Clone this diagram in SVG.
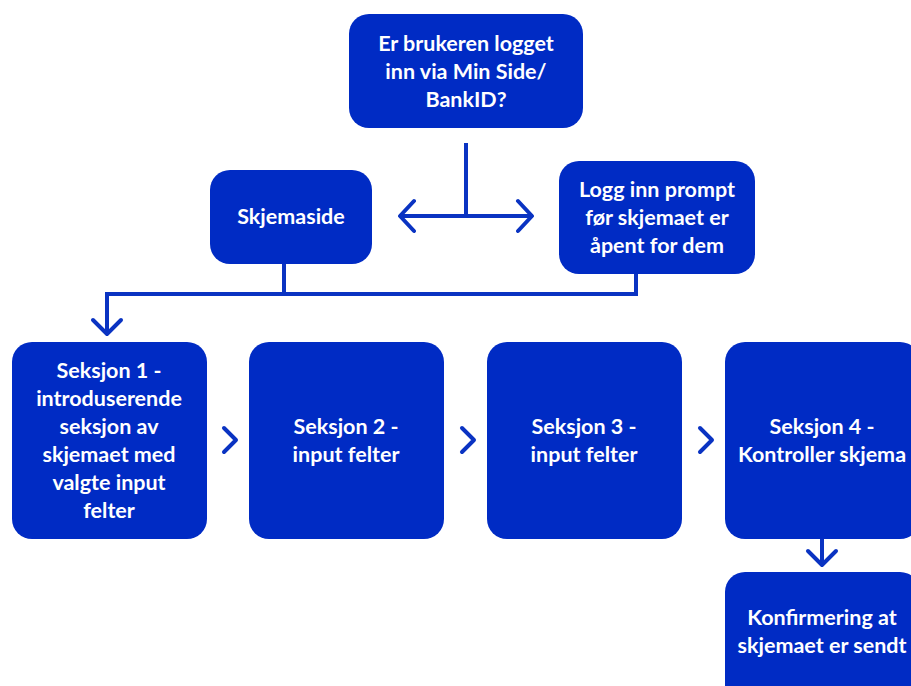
<svg xmlns="http://www.w3.org/2000/svg" width="911" height="686" viewBox="0 0 911 686">
<style>
.box{fill:#002BC4}
.t{font-family:Lato,"Liberation Sans",sans-serif;font-weight:bold;font-size:21.5px;fill:#fff;text-anchor:middle}
.ln{fill:none;stroke:#0A33C2;stroke-width:4}
.ar{fill:none;stroke:#0A33C2;stroke-width:4;stroke-linecap:round;stroke-linejoin:round}
</style>
<rect width="911" height="686" fill="#fff"/>
<g id="connectors">
<path class="ln" d="M466 143V216M400 216H532"/>
<path class="ar" d="M414 201L400 216L414 231M518 201L532 216L518 231"/>
<path class="ln" d="M284 264V294M636 274V294M107 294H638M107 292V333"/>
<path class="ar" d="M93 320L107 334L121 320"/>
<path class="ar" d="M224 428L236 440L224 452"/>
<path class="ar" d="M462 428L474 440L462 452"/>
<path class="ar" d="M700 428L712 440L700 452"/>
<path class="ln" d="M822 539V564"/>
<path class="ar" d="M808 551L822 565L836 551"/>
</g>
<g id="n-login-check">
<rect class="box" x="349" y="14" width="234" height="114" rx="20"/>
<text class="t" x="466" y="51">Er brukeren logget</text>
<text class="t" x="466" y="79">inn via Min Side/</text>
<text class="t" x="466" y="107">BankID?</text>
</g>
<g id="n-skjemaside">
<rect class="box" x="210" y="170" width="162" height="94" rx="20"/>
<text class="t" x="291" y="224">Skjemaside</text>
</g>
<g id="n-logg-inn">
<rect class="box" x="559" y="161" width="196" height="113" rx="20"/>
<text class="t" x="657" y="197">Logg inn prompt</text>
<text class="t" x="657" y="225">før skjemaet er</text>
<text class="t" x="657" y="253">åpent for dem</text>
</g>
<g id="n-seksjon1">
<rect class="box" x="12" y="342" width="195" height="197" rx="20"/>
<text class="t" x="109" y="378">Seksjon 1 -</text>
<text class="t" x="109" y="406">introduserende</text>
<text class="t" x="109" y="434">seksjon av</text>
<text class="t" x="109" y="462">skjemaet med</text>
<text class="t" x="109" y="490">valgte input</text>
<text class="t" x="109" y="518">felter</text>
</g>
<g id="n-seksjon2">
<rect class="box" x="249" y="342" width="195" height="197" rx="20"/>
<text class="t" x="346" y="434">Seksjon 2 -</text>
<text class="t" x="346" y="462">input felter</text>
</g>
<g id="n-seksjon3">
<rect class="box" x="487" y="342" width="195" height="197" rx="20"/>
<text class="t" x="584" y="434">Seksjon 3 -</text>
<text class="t" x="584" y="462">input felter</text>
</g>
<g id="n-seksjon4">
<rect class="box" x="725" y="342" width="195" height="197" rx="20"/>
<text class="t" x="822" y="434">Seksjon 4 -</text>
<text class="t" x="822" y="462">Kontroller skjema</text>
</g>
<g id="n-konfirmering">
<rect class="box" x="725" y="572" width="195" height="140" rx="20"/>
<text class="t" x="822" y="625">Konfirmering at</text>
<text class="t" x="822" y="653">skjemaet er sendt</text>
</g>
</svg>
